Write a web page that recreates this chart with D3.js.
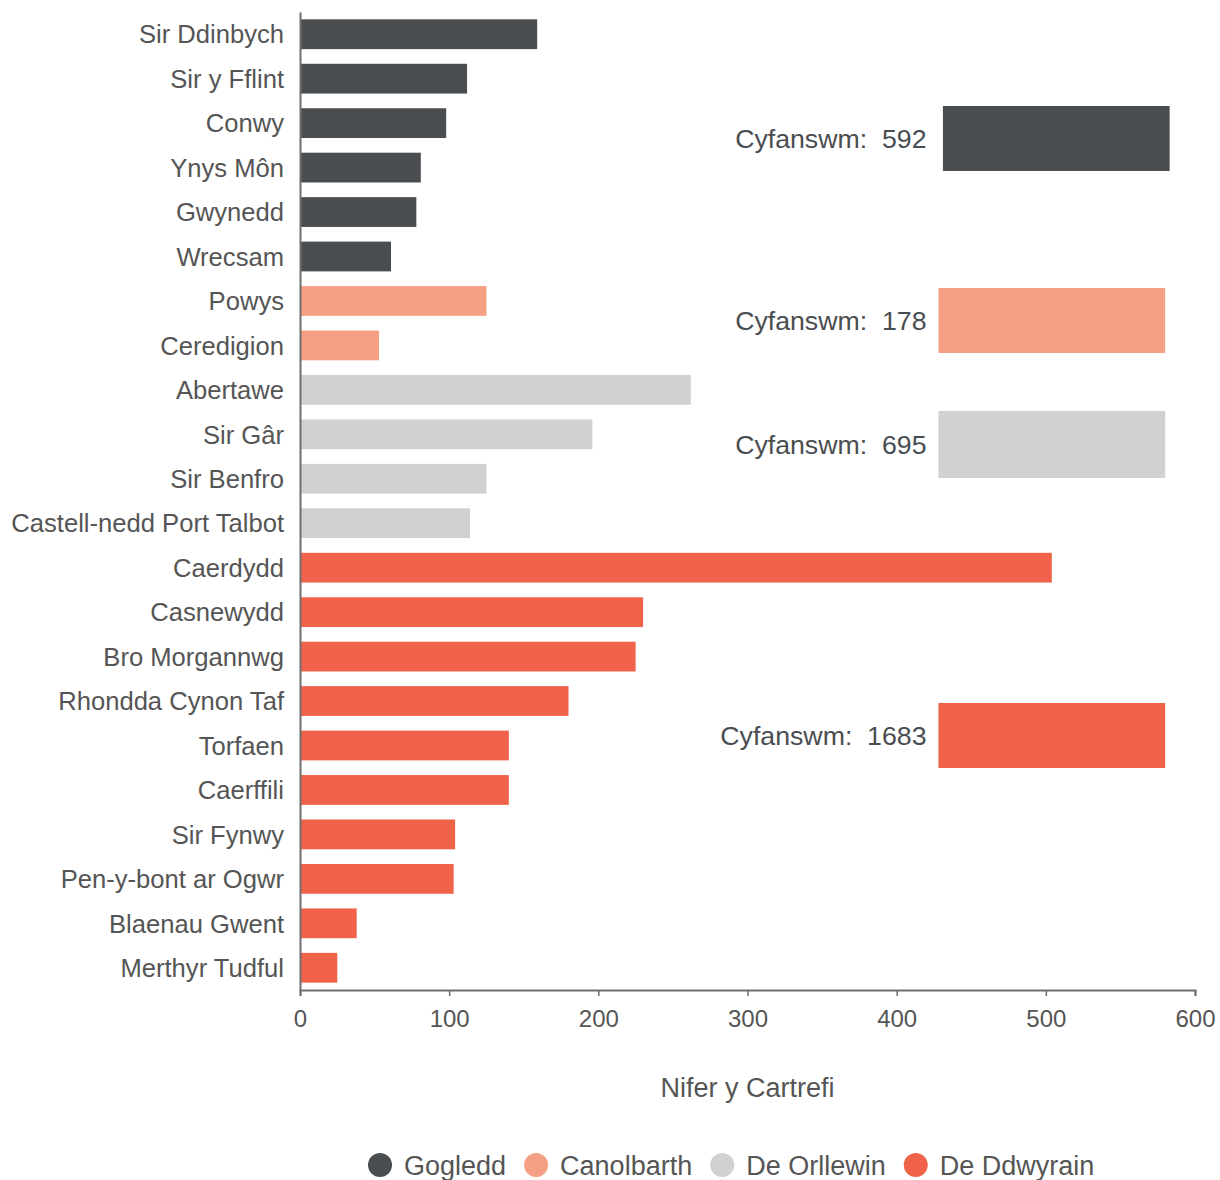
<!DOCTYPE html>
<html>
<head>
<meta charset="utf-8">
<script src="https://cdn.jsdelivr.net/npm/d3@7"></script>
<style>
  body { margin: 0; background: #fff; }
  text { font-family: "Liberation Sans", Arial, sans-serif; }
</style>
</head>
<body>
<div id="chart"></div>
<script>
// data
const areas = ["Sir Ddinbych", "Sir y Fflint", "Conwy", "Ynys Môn", "Gwynedd", "Wrecsam",
  "Powys", "Ceredigion",
  "Abertawe", "Sir Gâr", "Sir Benfro", "Castell-nedd Port Talbot",
  "Caerdydd", "Casnewydd", "Bro Morgannwg", "Rhondda Cynon Taf", "Torfaen", "Caerffili",
  "Sir Fynwy", "Pen-y-bont ar Ogwr", "Blaenau Gwent", "Merthyr Tudful"];
const homes = [159, 112, 98, 81, 78, 61,
  125, 53,
  262, 196, 125, 114,
  504, 230, 225, 180, 140, 140, 104, 103, 38, 25];
const regionOf = ["Gogledd", "Gogledd", "Gogledd", "Gogledd", "Gogledd", "Gogledd",
  "Canolbarth", "Canolbarth",
  "De Orllewin", "De Orllewin", "De Orllewin", "De Orllewin",
  "De Ddwyrain", "De Ddwyrain", "De Ddwyrain", "De Ddwyrain", "De Ddwyrain", "De Ddwyrain",
  "De Ddwyrain", "De Ddwyrain", "De Ddwyrain", "De Ddwyrain"];
const regions = ["Gogledd", "Canolbarth", "De Orllewin", "De Ddwyrain"];
const regionTotals = [592, 178, 695, 1683];
const xTicks = [0, 100, 200, 300, 400, 500, 600];

const colors = ["#4b4e51", "#f59f85", "#d0d1d0", "#f0634a"];

// size
const W = 1220, H = 1180;
const margin = {top: 12, left: 300, right: 25, bottom: 190};
const innerW = W - margin.left - margin.right;
const innerH = H - margin.top - margin.bottom;

const svg = d3.select("#chart")
  .append("svg")
  .attr("width", W)
  .attr("height", H);

const g = svg.append("g")
  .attr("transform", `translate(${margin.left},${margin.top})`);

const x = d3.scaleLinear().domain([0, 600]).range([0, innerW]);
const y = d3.scaleBand().domain(areas).range([0, innerH]).paddingInner(0.33).paddingOuter(0.165);
const color = d3.scaleOrdinal().domain(regions).range(colors);

const rows = areas.map((a, i) => ({area: a, value: homes[i], region: regionOf[i]}));

// bars
g.selectAll("rect.bar")
  .data(rows)
  .enter()
  .append("rect")
  .attr("class", "bar")
  .attr("x", x(0))
  .attr("y", d => y(d.area))
  .attr("width", d => x(d.value) - x(0))
  .attr("height", y.bandwidth())
  .attr("fill", d => color(d.region));

// y axis
const yAxis = g.append("g")
  .call(d3.axisLeft(y).tickSize(0).tickPadding(16));
yAxis.select(".domain").attr("stroke", "#6e6e6e").attr("stroke-width", 2);
yAxis.selectAll("text")
  .attr("fill", "#555")
  .style("font-size", "25.6px")
  .attr("dy", "0.36em");

// x axis
const xAxis = g.append("g")
  .attr("transform", `translate(0,${innerH})`)
  .call(d3.axisBottom(x).tickValues(xTicks).tickSizeOuter(6).tickSize(6).tickPadding(14));
xAxis.select(".domain").attr("stroke", "#6e6e6e").attr("stroke-width", 2);
xAxis.selectAll(".tick line").attr("stroke", "#6e6e6e").attr("stroke-width", 1.5);
xAxis.selectAll("text")
  .attr("fill", "#555")
  .style("font-size", "24px");

// axis title
svg.append("text")
  .attr("x", margin.left + innerW / 2)
  .attr("y", 1097)
  .attr("text-anchor", "middle")
  .attr("fill", "#555")
  .style("font-size", "27px")
  .text("Nifer y Cartrefi");

// total boxes (x in data units, y in px)
const boxLayout = [
  {x0: 431, x1: 583, y0: 106, y1: 171},
  {x0: 428, x1: 580, y0: 288, y1: 353},
  {x0: 428, x1: 580, y0: 411, y1: 478},
  {x0: 428, x1: 580, y0: 703, y1: 768}
];
const boxes = regions.map((r, i) => Object.assign({region: r, total: regionTotals[i]}, boxLayout[i]));

g.selectAll("rect.total")
  .data(boxes)
  .enter()
  .append("rect")
  .attr("class", "total")
  .attr("x", d => x(d.x0))
  .attr("y", d => d.y0 - margin.top)
  .attr("width", d => x(d.x1) - x(d.x0))
  .attr("height", d => d.y1 - d.y0)
  .attr("fill", d => color(d.region));

g.selectAll("text.total")
  .data(boxes)
  .enter()
  .append("text")
  .attr("class", "total")
  .attr("x", x(420))
  .attr("y", d => (d.y0 + d.y1) / 2 - margin.top)
  .attr("dy", "0.36em")
  .attr("text-anchor", "end")
  .attr("fill", "#4a4d50")
  .style("font-size", "26.7px")
  .style("white-space", "pre")
  .text(d => "Cyfanswm:  " + d.total);

// legend
const legend = svg.append("g").attr("transform", "translate(0,1165)");
const items = legend.selectAll("g")
  .data(regions)
  .enter()
  .append("g");
items.append("circle")
  .attr("r", 12)
  .attr("cx", 12)
  .attr("fill", d => color(d));
items.append("text")
  .attr("x", 36)
  .attr("dy", "0.36em")
  .attr("fill", "#555")
  .style("font-size", "27px")
  .text(d => d);

let widths = [];
items.each(function() { widths.push(this.getBBox().width); });
const gap = 18;
let cx = 368;
items.attr("transform", (d, i) => {
  const t = `translate(${cx},0)`;
  cx += widths[i] + gap;
  return t;
});
</script>
</body>
</html>
